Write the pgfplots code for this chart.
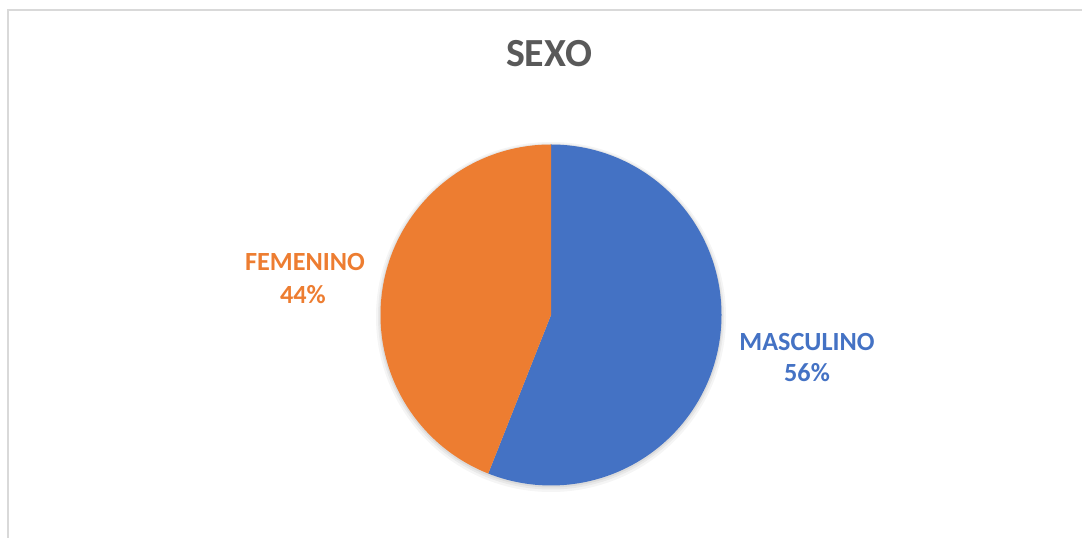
\documentclass[border=0pt]{standalone}
\usepackage{pgfplots}
\pgfplotsset{compat=1.18}
\usepackage{fontspec}
\setmainfont{Carlito}
\definecolor{cblue}{HTML}{4472C4}
\definecolor{corange}{HTML}{ED7D31}
\definecolor{ctitle}{HTML}{595959}
\definecolor{cborder}{HTML}{D9D9D9}
\begin{document}
\begin{tikzpicture}
% data (percent)
\def\vmasc{56}
\def\vfem{44}
\pgfmathsetmacro{\amasc}{90-3.6*\vmasc}
\begin{axis}[name=ax, scale only axis, width=1082bp, height=538bp,
  xmin=0, xmax=1082, ymin=0, ymax=538, hide axis, clip=false]
% chart border (top and left visible)
\draw[cborder, line width=1.6bp] (axis cs:8,0) -- (axis cs:8,528) -- (axis cs:1082,528);
% soft shadow
\fill[black, opacity=0.04] (axis cs:551,221) circle[radius=175bp];
\fill[black, opacity=0.05] (axis cs:551,221.5) circle[radius=173bp];
\fill[black, opacity=0.06] (axis cs:551,222) circle[radius=171.5bp];
% pie slices
\fill[cblue] (axis cs:551,223) -- (axis cs:551,393.5)
  arc[start angle=90, end angle=\amasc, radius=170.5bp] -- cycle;
\fill[corange] (axis cs:551,223) -- (axis cs:551,393.5)
  arc[start angle=90, end angle={\amasc+360}, radius=170.5bp] -- cycle;
% title
\node[anchor=base, font=\bfseries\fontsize{40}{46}\selectfont, text=ctitle]
  at (axis cs:549,471) {SEXO};
% labels
\node[anchor=base, font=\bfseries\fontsize{26.3}{31}\selectfont, text=corange]
  at (axis cs:305,267) {FEMENINO};
\node[anchor=base, font=\bfseries\fontsize{26.3}{31}\selectfont, text=corange]
  at (axis cs:303,234) {\vfem\%};
\node[anchor=base, font=\bfseries\fontsize{26.3}{31}\selectfont, text=cblue]
  at (axis cs:807,187) {MASCULINO};
\node[anchor=base, font=\bfseries\fontsize{26.3}{31}\selectfont, text=cblue]
  at (axis cs:807,156) {\vmasc\%};
\end{axis}
\pgfresetboundingbox
\path[use as bounding box] (ax.south west) rectangle (ax.north east);
\end{tikzpicture}
\end{document}
